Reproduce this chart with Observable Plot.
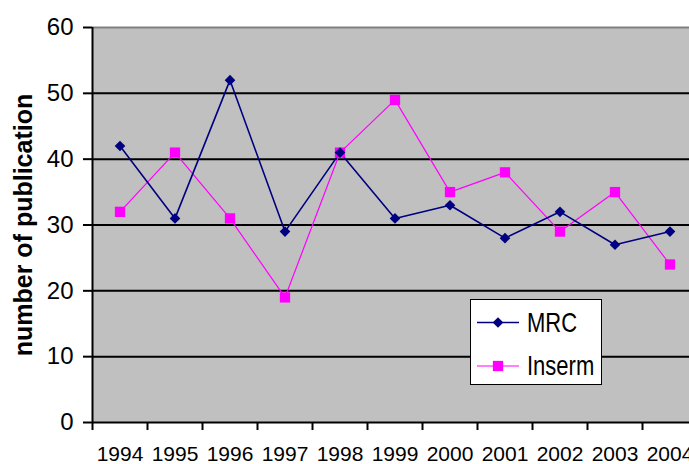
<!DOCTYPE html>
<html>
<head>
<meta charset="utf-8">
<script src="https://cdn.jsdelivr.net/npm/d3@7"></script>
<script src="https://cdn.jsdelivr.net/npm/@observablehq/plot@0.6"></script>
<style>
  html, body { margin: 0; padding: 0; background: #fff; }
  #wrap { position: relative; width: 689px; height: 464px; overflow: hidden; font-family: "Liberation Sans", Arial, sans-serif; }
  #legend { position: absolute; left: 470px; top: 299px; width: 130px; height: 84px; background: #fff; border: 1.5px solid #000; }
  #legend svg { position: absolute; left: 0; top: 0; }
  .lg-text { position: absolute; left: 56px; font-size: 22px; line-height: 22px; color: #000; transform: scaleY(1.25); transform-origin: left center; }
</style>
</head>
<body>
<div id="wrap"></div>
<script>
const years = [1994, 1995, 1996, 1997, 1998, 1999, 2000, 2001, 2002, 2003, 2004];
const mrc = [42, 31, 52, 29, 41, 31, 33, 28, 32, 27, 29];
const inserm = [32, 41, 31, 19, 41, 49, 35, 38, 29, 35, 24];
const yTicks = [0, 10, 20, 30, 40, 50, 60];
const seriesNames = ["MRC", "Inserm"];
const colors = {MRC: "#000080", Inserm: "#ff00ff"};

const mrcData = years.map((year, i) => ({year, value: mrc[i]}));
const insermData = years.map((year, i) => ({year, value: inserm[i]}));
const boundaries = [years[0] - 0.5, ...years.map(y => y + 0.5)];
const font = '"Liberation Sans", Arial, sans-serif';

const chart = Plot.plot({
  width: 689,
  height: 464,
  marginLeft: 92,
  marginTop: 27,
  marginBottom: 42,
  marginRight: 0,
  style: {background: "#fff", fontFamily: font, color: "#000", overflow: "hidden"},
  x: {domain: [boundaries[0], boundaries[boundaries.length - 1]], range: [92, 697]},
  y: {domain: [0, 60]},
  marks: [
    Plot.frame({fill: "#c0c0c0", stroke: "none"}),
    Plot.ruleY(yTicks.filter(t => t > 0 && t < 60), {stroke: "#000", strokeWidth: 2}),
    Plot.ruleY([60], {stroke: "#808080", strokeWidth: 2}),
    Plot.ruleY([0], {stroke: "#000", strokeWidth: 2}),
    Plot.ruleX([boundaries[0]], {stroke: "#000", strokeWidth: 2}),
    Plot.axisY({ticks: yTicks, tickSize: 9, tickPadding: 10, fontSize: 24, label: null, strokeWidth: 2}),
    Plot.axisX({ticks: boundaries, tickSize: 8, tickFormat: () => "", label: null, strokeWidth: 2}),
    Plot.axisX({ticks: years, tickSize: 0, tickPadding: 24, fontSize: 21, tickFormat: d => String(d), label: null}),
    Plot.text(["number of publication"], {frameAnchor: "left", textAnchor: "middle", lineAnchor: "middle", rotate: -90, dx: -69, fontSize: 25, fontWeight: "bold", fill: "#000"}),
    Plot.line(insermData, {x: "year", y: "value", stroke: colors.Inserm, strokeWidth: 1.2}),
    Plot.line(mrcData, {x: "year", y: "value", stroke: colors.MRC, strokeWidth: 1.6}),
    Plot.dot(insermData, {x: "year", y: "value", symbol: "square", r: 5.8, fill: colors.Inserm, stroke: "none"}),
    Plot.dot(mrcData, {x: "year", y: "value", symbol: "diamond2", r: 4.8, fill: colors.MRC, stroke: "none"})
  ]
});

const wrap = document.getElementById("wrap");
wrap.appendChild(chart);

// Legend
const legend = document.createElement("div");
legend.id = "legend";
wrap.appendChild(legend);
const lsvg = d3.select(legend).append("svg").attr("width", 130).attr("height", 84);
const rows = [
  {name: seriesNames[0], y: 22.5, sym: d3.symbolDiamond2, size: Math.PI * 4.8 * 4.8},
  {name: seriesNames[1], y: 66, sym: d3.symbolSquare, size: Math.PI * 5.8 * 5.8}
];
rows.forEach(r => {
  lsvg.append("line").attr("x1", 6).attr("x2", 48).attr("y1", r.y).attr("y2", r.y)
    .attr("stroke", colors[r.name]).attr("stroke-width", r.name === "MRC" ? 1.6 : 1.2);
  lsvg.append("path").attr("d", d3.symbol(r.sym, r.size)()).attr("transform", `translate(27,${r.y})`)
    .attr("fill", colors[r.name]);
  const t = document.createElement("div");
  t.className = "lg-text";
  t.textContent = r.name;
  t.style.top = (r.y - 11) + "px";
  legend.appendChild(t);
});
</script>
</body>
</html>
